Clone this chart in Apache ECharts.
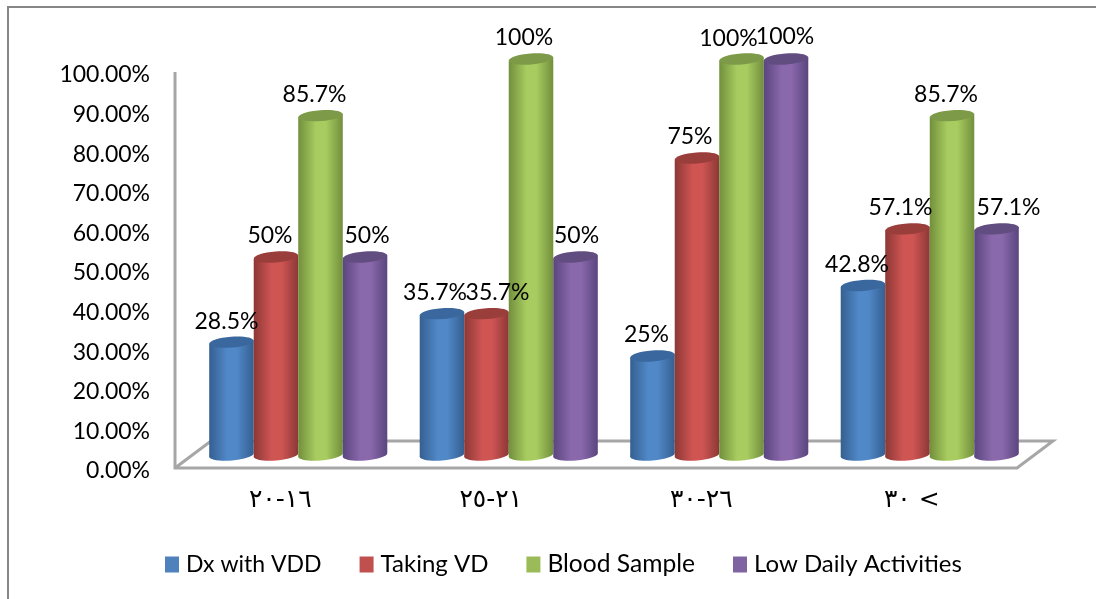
<!DOCTYPE html>
<html>
<head>
<meta charset="utf-8">
<style>
html, body { margin: 0; padding: 0; background: #fff; }
#chart { width: 1096px; height: 599px; }
</style>
<script src="https://cdn.jsdelivr.net/npm/echarts@6/dist/echarts.min.js"></script>
</head>
<body>
<div id="chart"></div>
<script>
const categories = ['١٦-٢٠', '٢١-٢٥', '٢٦-٣٠', '٣٠ <'];
const seriesNames = ['Dx with VDD', 'Taking VD', 'Blood Sample', 'Low Daily Activities'];
const dxWithVdd = [28.5, 35.7, 25, 42.8];
const takingVd = [50, 35.7, 75, 57.1];
const bloodSample = [85.7, 100, 100, 85.7];
const lowDaily = [50, 50, 100, 57.1];

// side colour (dark edge, mid), top colour, legend colour
const palette = [
	{ edge: '#355f90', mid: '#5088c8', top: '#3a689e', flat: '#4f81bd' },
	{ edge: '#8c3836', mid: '#cf5553', top: '#9a3e3b', flat: '#c0504d' },
	{ edge: '#728f3c', mid: '#a8cc60', top: '#7d9a48', flat: '#9bbb59' },
	{ edge: '#5a467e', mid: '#8a68ac', top: '#624d80', flat: '#8064a2' }
];

// labels are nudged by hand in the original, dx per series / category
const labelDx = [
	[-5, -7, -6, -6],
	[-6, 11, -7, -7],
	[-6, -7, -13, -6],
	[2, 1, -1, 12]
];
const labelDy = [
	[0, 0, 0, 0],
	[0, 0, 0, 0],
	[0, 0, 1, 0],
	[0, 0, -1, 0]
];
// legend font sizes differ a little to keep the original item widths
const legendFontSizes = [23, 24, 24.6, 24];

const DEPTH_X = 18;
const DEPTH_Y = 13;
const BAR_SHARE = 0.2115;
const TILT = 0.075;

function renderCylinder(params, api) {
	const s = params.seriesIndex;
	const c = api.value(0);
	const v = api.value(1);
	const band = api.size([1, 0])[0];
	const w = band * BAR_SHARE;
	const base = api.coord([c, 0]);
	const top = api.coord([c, v]);
	const cx = base[0] + DEPTH_X + (s - 1.5) * w;
	const y0 = base[1] - DEPTH_Y;
	const y1 = top[1] - DEPTH_Y;
	const rx = w / 2;
	const ry = 5.5;
	const p = palette[s];
	const side = {
		type: 'linear', x: 0, y: 0, x2: 1, y2: 0,
		colorStops: [
			{ offset: 0, color: p.edge },
			{ offset: 0.4, color: p.mid },
			{ offset: 0.62, color: p.mid },
			{ offset: 1, color: p.edge }
		]
	};
	const dy = rx * TILT;
	return {
		type: 'group',
		children: [
			{
				type: 'ellipse',
				shape: { cx: 0, cy: 0, rx: rx, ry: ry },
				x: cx, y: y0, rotation: TILT,
				style: { fill: side }
			},
			{
				type: 'polygon',
				shape: { points: [[cx - rx, y1 + dy], [cx + rx, y1 - dy], [cx + rx, y0 - dy], [cx - rx, y0 + dy]] },
				style: { fill: side }
			},
			{
				type: 'ellipse',
				shape: { cx: 0, cy: 0, rx: rx, ry: ry },
				x: cx, y: y1, rotation: TILT,
				style: { fill: p.top }
			},
			{
				type: 'text',
				z2: 10,
				x: cx + labelDx[s][c],
				y: y1 - 21 + labelDy[s][c],
				style: {
					text: v + '%',
					fill: '#000',
					font: '23px Lato',
					align: 'center',
					verticalAlign: 'middle'
				}
			}
		]
	};
}

// floor and back edge of the 3d box, taken from the grid rectangle
function renderFloor(params) {
	const g = params.coordSys;
	const x0 = g.x;
	const x1 = g.x + g.width;
	const y = g.y + g.height;
	const dx = DEPTH_X * 2;
	const dy = 27;
	return {
		type: 'polyline',
		shape: { points: [[x0, g.y], [x0, y], [x1, y], [x1 + dx, y - dy], [x0 + dx, y - dy], [x0, y]] },
		style: { stroke: '#a6a6a6', lineWidth: 3, fill: 'none' }
	};
}

function cylinderSeries(i, values) {
	return {
		name: seriesNames[i],
		type: 'custom',
		renderItem: renderCylinder,
		clip: false,
		z: 3,
		itemStyle: { color: palette[i].flat },
		encode: { x: 0, y: 1 },
		data: values.map((v, c) => [c, v])
	};
}

const chart = echarts.init(document.getElementById('chart'));
chart.setOption({
	animation: false,
	backgroundColor: '#fff',
	textStyle: { fontFamily: 'Lato' },
	grid: { left: 175, top: 72, width: 842, height: 396, containLabel: false },
	graphic: [{
		type: 'polyline',
		silent: true,
		shape: { points: [[8, 599], [8, 7], [1096, 7]] },
		style: { stroke: '#868686', lineWidth: 2, fill: 'none' }
	}],
	legend: {
		data: seriesNames.map((name, i) => ({ name: name, textStyle: { fontSize: legendFontSizes[i] } })),
		left: 160,
		top: 547,
		icon: 'rect',
		itemWidth: 14,
		itemHeight: 16,
		itemGap: 38,
		textStyle: { color: '#000', fontFamily: 'Lato', padding: [0, 0, 0, 2] }
	},
	xAxis: {
		type: 'category',
		data: categories,
		axisLine: { show: false },
		axisTick: { show: false },
		axisLabel: { fontSize: 25, color: '#000', margin: 20, fontFamily: 'DejaVu Sans' }
	},
	yAxis: {
		type: 'value',
		min: 0,
		max: 100,
		interval: 10,
		splitLine: { show: false },
		axisLine: { show: false },
		axisTick: { show: false },
		axisLabel: {
			fontSize: 23,
			color: '#000',
			margin: 25,
			verticalAlign: 'top',
			lineHeight: 6,
			formatter: v => v.toFixed(2) + '%'
		}
	},
	series: [
		cylinderSeries(0, dxWithVdd),
		cylinderSeries(1, takingVd),
		cylinderSeries(2, bloodSample),
		cylinderSeries(3, lowDaily),
		{
			type: 'custom',
			silent: true,
			z: 1,
			renderItem: renderFloor,
			clip: false,
			data: [[0, 0]]
		}
	]
});
</script>
</body>
</html>
